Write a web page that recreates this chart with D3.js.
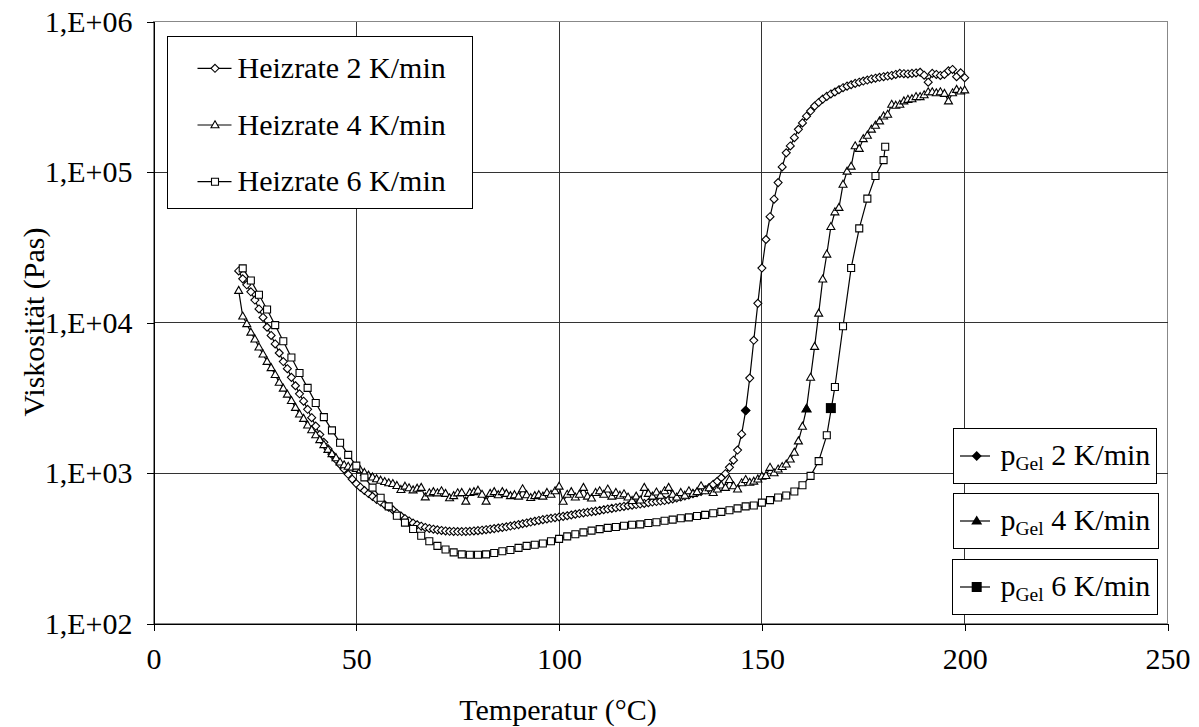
<!DOCTYPE html>
<html>
<head>
<meta charset="utf-8">
<script src="https://cdn.jsdelivr.net/npm/d3@7"></script>
<style>
  body { margin: 0; background: #fff; }
  svg text { font-family: "Liberation Serif", "Times New Roman", serif; fill: #000; white-space: pre; }
</style>
</head>
<body>
<div id="chart"></div>
<script>
// Heizrate 2 K/min, one reading per K from 21 to 200 °C
const temps2 = d3.range(21, 201);
const visc2 = [
  22000, 19500, 17800, 16000, 14100, 12300, 10800, 9300, 8200, 7200,
  6270, 5500, 4930, 4320, 3800, 3360, 3000, 2650, 2330, 2050,
  1800, 1600, 1450, 1330, 1230, 1140, 1060, 980, 910, 850,
  805, 765, 730, 698, 668, 641, 616, 592, 570, 540,
  518, 498, 480, 465, 453, 443, 435, 428, 423, 419,
  415, 412, 410, 409, 408, 408, 409, 410, 412, 414,
  417, 420, 423, 427, 431, 435, 439, 444, 449, 454,
  460, 466, 472, 478, 484, 490, 495, 500, 505, 510,
  515, 520, 526, 532, 538, 543, 548, 553, 558, 564,
  570, 576, 582, 588, 594, 600, 606, 611, 617, 622,
  628, 635, 641, 646, 651, 656, 664, 673, 682, 692,
  703, 715, 727, 740, 755, 775, 800, 840, 880, 930,
  990, 1090, 1216, 1420, 1810, 2600, 4270, 7620, 13400, 23000,
  35600, 50500, 66000, 85000, 108000, 134000, 149000, 169000, 192000, 212000,
  235000, 254000, 274000, 290000, 305000, 318000, 330000, 340000, 352000, 363000,
  372000, 380000, 388000, 395000, 402000, 408000, 415000, 420000, 426000, 430000,
  434000, 438000, 445000, 452000, 450000, 448000, 452000, 455000, 460000, 440000,
  395000, 452000, 445000, 438000, 445000, 470000, 480000, 430000, 456000, 423000
];

// Heizrate 4 K/min
const temps4 = d3.range(21, 201);
const visc4 = [
  16300, 11000, 9800, 8600, 7750, 6850, 6150, 5500, 5000, 4500,
  4000, 3650, 3330, 3020, 2720, 2460, 2300, 2080, 1930, 1790,
  1660, 1540, 1430, 1340, 1260, 1180, 1130, 1105, 1090, 1070,
  1045, 1005, 965, 938, 912, 893, 875, 858, 849, 824,
  775, 815, 795, 770, 790, 800, 692, 736, 750, 736,
  760, 730, 682, 705, 736, 740, 648, 740, 750, 766,
  720, 648, 730, 750, 715, 750, 730, 705, 715, 700,
  783, 715, 685, 705, 715, 700, 740, 720, 760, 815,
  647, 720, 750, 690, 720, 800, 700, 680, 740, 760,
  720, 780, 700, 740, 710, 725, 690, 655, 700, 660,
  800, 730, 700, 745, 710, 760, 800, 720, 690, 740,
  710, 760, 730, 750, 820, 760, 795, 740, 780, 830,
  800, 902, 820, 780, 858, 902, 865, 880, 910, 950,
  960, 1087, 1000, 1060, 1100, 1143, 1235, 1370, 1630, 2040,
  2680, 4310, 6920, 11500, 19400, 28400, 43300, 54200, 58000, 82700,
  101000, 109000, 149000, 143000, 166000, 175000, 192000, 204000, 218000, 235000,
  241000, 281000, 277000, 281000, 296000, 303000, 306000, 316000, 316000, 325000,
  340000, 340000, 335000, 340000, 332000, 296000, 335000, 353000, 344000, 350000
];

// Heizrate 6 K/min, one reading per 2 K
const temps6 = d3.range(22, 181, 2).concat([180.4]);
const visc6 = [
  22900, 19000, 15300, 12200, 9600, 7500, 5850, 4620, 3680, 2920,
  2350, 1920, 1590, 1320, 1120, 935, 800, 685, 600, 520,
  468, 425, 383, 352, 328, 310, 297, 288, 286, 286,
  288, 294, 302, 308, 318, 328, 334, 340, 352, 365,
  379, 392, 403, 414, 424, 432, 438, 446, 453, 456,
  465, 471, 482, 490, 500, 507, 518, 527, 540, 552,
  566, 582, 600, 608, 636, 660, 688, 708, 753, 830,
  957, 1200, 1780, 3730, 9440, 23000, 42200, 66500, 94000, 120000,
  147000
];

// Gelpunkte
const gelTemps = [146, 161, 167];
const gelVisc = [2600, 2670, 2700];

const seriesNames = ['Heizrate 2 K/min', 'Heizrate 4 K/min', 'Heizrate 6 K/min'];
const gelRates = ['2 K/min', '4 K/min', '6 K/min'];
const markerTypes = ['diamond', 'triangle', 'square'];

const xTicks = [0, 50, 100, 150, 200, 250];
const yTicks = [1e2, 1e3, 1e4, 1e5, 1e6];

const W = 1199, H = 727;
const plotLeft = 153.5, plotRight = 1167.5, plotTop = 21.5, plotBottom = 623.5;
const serif = '"Liberation Serif", "Times New Roman", serif';

const svg = d3.select('#chart')
    .append('svg')
    .attr('width', W)
    .attr('height', H);

svg.append('rect').attr('width', W).attr('height', H).attr('fill', '#fff');

const x = d3.scaleLinear().domain([0, 250]).range([plotLeft, plotRight]);
const y = d3.scaleLog().domain([1e2, 1e6]).range([plotBottom, plotTop]);

// marker shapes, open ones are small, gel ones big
function markerPath(type, big) {
    if (type === 'diamond') {
        const s = big ? 5 : 4;
        return `M0,${-s}L${s},0L0,${s}L${-s},0Z`;
    }
    if (type === 'triangle') {
        const hw = big ? 5.5 : 4, h = big ? 9 : 7;
        return `M0,${-h * 0.6}L${hw},${h * 0.4}L${-hw},${h * 0.4}Z`;
    }
    const s = big ? 5 : 3.5;
    return `M${-s},${-s}H${s}V${s}H${-s}Z`;
}

// plot frame + grid
svg.append('rect')
    .attr('x', plotLeft).attr('y', plotTop)
    .attr('width', plotRight - plotLeft).attr('height', plotBottom - plotTop)
    .attr('fill', '#fff').attr('stroke', '#888').attr('shape-rendering', 'crispEdges');

const grid = svg.append('g').attr('stroke', '#333').attr('shape-rendering', 'crispEdges');
grid.selectAll('line.vx')
    .data(xTicks.filter(d => d > 0 && d < 250))
    .enter().append('line')
    .attr('x1', d => x(d)).attr('x2', d => x(d))
    .attr('y1', plotTop).attr('y2', plotBottom);
grid.selectAll('line.hy')
    .data(yTicks.filter(d => d > 1e2 && d < 1e6))
    .enter().append('line')
    .attr('y1', d => y(d)).attr('y2', d => y(d))
    .attr('x1', plotLeft).attr('x2', plotRight);

// axes
const yAxis = svg.append('g')
    .attr('transform', `translate(${plotLeft},0)`)
    .call(d3.axisLeft(y).tickValues(yTicks).tickSize(7).tickSizeOuter(0).tickPadding(14)
        .tickFormat(d => '1,E+0' + Math.round(Math.log10(d))));
const xAxis = svg.append('g')
    .attr('transform', `translate(0,${plotBottom})`)
    .call(d3.axisBottom(x).tickValues(xTicks).tickSize(7).tickSizeOuter(0).tickPadding(17)
        .tickFormat(d3.format('d')));
[yAxis, xAxis].forEach(a => {
    a.selectAll('path, line').attr('stroke', '#000').attr('shape-rendering', 'crispEdges');
    a.selectAll('text').attr('font-size', 30).attr('font-family', serif).attr('fill', '#000');
});

svg.append('text')
    .attr('x', 558).attr('y', 720)
    .attr('text-anchor', 'middle').attr('font-size', 30).attr('font-family', serif)
    .text('Temperatur (°C)');
svg.append('text')
    .attr('transform', 'translate(44,322) rotate(-90)')
    .attr('text-anchor', 'middle').attr('font-size', 30).attr('font-family', serif)
    .text('Viskosität (Pas)');

// series
const series = [
    { temps: temps2, visc: visc2 },
    { temps: temps4, visc: visc4 },
    { temps: temps6, visc: visc6 }
];
const line = d3.line().x(d => x(d[0])).y(d => y(d[1]));

series.forEach((s, i) => {
    const pts = s.temps.map((t, j) => [t, s.visc[j]]);
    const g = svg.append('g');
    g.append('path')
        .attr('d', line(pts))
        .attr('fill', 'none').attr('stroke', '#000').attr('stroke-width', 1.2);
    g.selectAll('path.m')
        .data(pts)
        .enter().append('path')
        .attr('class', 'm')
        .attr('transform', d => `translate(${x(d[0])},${y(d[1])})`)
        .attr('d', markerPath(markerTypes[i], false))
        .attr('fill', '#fff').attr('stroke', '#000').attr('stroke-width', 1.1);
});

svg.selectAll('path.gel')
    .data(gelTemps)
    .enter().append('path')
    .attr('class', 'gel')
    .attr('transform', (d, i) => `translate(${x(d)},${y(gelVisc[i])})`)
    .attr('d', (d, i) => markerPath(markerTypes[i], true))
    .attr('fill', '#000');

// legend for heating rates
const leg1 = svg.append('g');
leg1.append('rect')
    .attr('x', 167.5).attr('y', 36.5).attr('width', 304.5).attr('height', 172)
    .attr('fill', '#fff').attr('stroke', '#000').attr('shape-rendering', 'crispEdges');
seriesNames.forEach((name, i) => {
    const cy = 68.3 + i * 56.7;
    leg1.append('line')
        .attr('x1', 197.5).attr('x2', 231.5).attr('y1', cy).attr('y2', cy)
        .attr('stroke', '#000').attr('stroke-width', 1.2);
    leg1.append('path')
        .attr('transform', `translate(215,${cy})`)
        .attr('d', markerPath(markerTypes[i], false))
        .attr('fill', '#fff').attr('stroke', '#000').attr('stroke-width', 1.1);
    leg1.append('text')
        .attr('x', 237.5).attr('y', cy + 9.5)
        .attr('font-size', 30).attr('font-family', serif)
        .text(name);
});

// legend for gel points, one box each
const gelBoxes = [
    { x: 953.5, y: 428.5, w: 203 },
    { x: 953.5, y: 493.5, w: 205 },
    { x: 952.5, y: 559.5, w: 205 }
];
gelRates.forEach((rate, i) => {
    const b = gelBoxes[i];
    const cy = b.y + 27.5;
    const g = svg.append('g');
    g.append('rect')
        .attr('x', b.x).attr('y', b.y).attr('width', b.w).attr('height', 55)
        .attr('fill', '#fff').attr('stroke', '#000').attr('shape-rendering', 'crispEdges');
    g.append('line')
        .attr('x1', 960).attr('x2', 990).attr('y1', cy).attr('y2', cy)
        .attr('stroke', '#000').attr('stroke-width', 1.2);
    g.append('path')
        .attr('transform', `translate(976.7,${cy})`)
        .attr('d', markerPath(markerTypes[i], true))
        .attr('fill', '#000');
    const t = g.append('text')
        .attr('x', 1000.5).attr('y', cy + 9.3)
        .attr('font-size', 30).attr('font-family', serif);
    t.append('tspan').text('p');
    t.append('tspan').attr('font-size', 19.5).attr('dy', 5).text('Gel');
    t.append('tspan').attr('dy', -5).text(' ' + rate);
});
</script>
</body>
</html>
